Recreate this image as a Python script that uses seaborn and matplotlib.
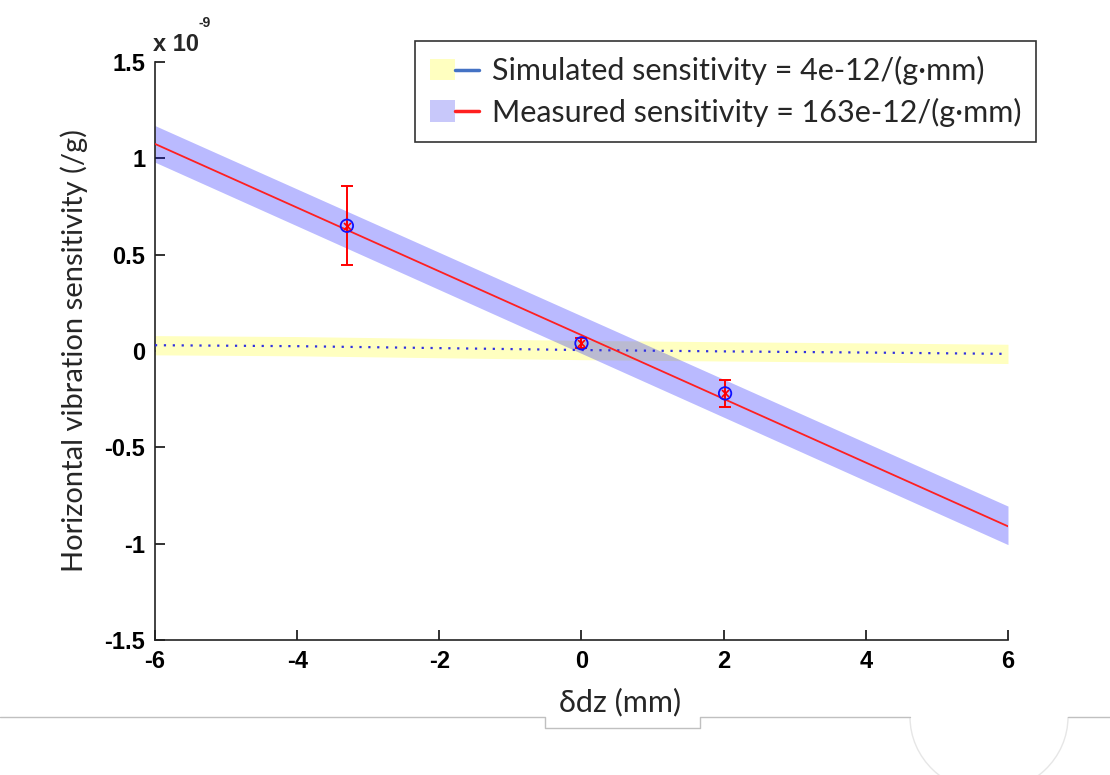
import matplotlib
matplotlib.use("Agg")
import matplotlib.pyplot as plt
import seaborn as sns
import pandas as pd
from matplotlib.patches import Patch, Arc
from matplotlib.lines import Line2D
from matplotlib.legend_handler import HandlerTuple

# ---- data ----
sim_x = [-6, -4, -2, 0, 2, 4, 6]
sim_y = [0.03, 0.025, 0.015, 0.005, -0.002, -0.008, -0.015]
sim_lo = [-0.02, -0.025, -0.035, -0.045, -0.052, -0.058, -0.065]
sim_hi = [0.08, 0.075, 0.065, 0.055, 0.048, 0.042, 0.035]

fit_x = [-6, 6]
fit_y = [1.075, -0.91]
fit_lo = [0.98, -1.005]
fit_hi = [1.17, -0.805]

pt_x = [-3.3, 0.0, 2.02]
pt_y = [0.65, 0.04, -0.22]
pt_err = [0.205, 0.025, 0.07]

xticks = [-6, -4, -2, 0, 2, 4, 6]
yticks = [-1.5, -1, -0.5, 0, 0.5, 1, 1.5]
ytick_labels = ["-1.5", "-1", "-0.5", "0", "0.5", "1", "1.5"]

sim_label = "Simulated sensitivity = 4e-12/(g\u00b7mm)"
meas_label = "Measured sensitivity = 163e-12/(g\u00b7mm)"

sns.set_style("ticks")
plt.rcParams['font.family'] = ['Lato', 'DejaVu Sans']
plt.rcParams.update({
    'xtick.bottom': True, 'ytick.left': True,
    'xtick.top': False, 'ytick.right': False,
    'xtick.direction': 'in', 'ytick.direction': 'in',
    'xtick.major.size': 7, 'ytick.major.size': 7,
    'xtick.major.width': 1.3, 'ytick.major.width': 1.3,
    'xtick.color': '#222222', 'ytick.color': '#222222',
    'xtick.labelcolor': 'black', 'ytick.labelcolor': 'black',
    'xtick.major.pad': 7, 'ytick.major.pad': 7,
})

fig = plt.figure(figsize=(11.1, 7.75), dpi=100)
ax = fig.add_axes([0.1396, 0.1742, 0.7685, 0.7458])

yellow = "#ffffc0"

ax.fill_between(sim_x, sim_lo, sim_hi, color=yellow, lw=0, zorder=1)
ax.fill_between(fit_x, fit_lo, fit_hi, color="#0000ff", lw=0, alpha=0.27, zorder=2)

sim_df = pd.DataFrame({"x": sim_x, "y": sim_y})
fit_df = pd.DataFrame({"x": fit_x, "y": fit_y})
sns.lineplot(data=sim_df, x="x", y="y", ax=ax, color="#3030e0", lw=1.6,
             linestyle=(0, (1, 3)), zorder=3)
sns.lineplot(data=fit_df, x="x", y="y", ax=ax, color="#ff2020", lw=1.3, zorder=4)

ax.errorbar(pt_x, pt_y, yerr=pt_err, fmt="none", ecolor="red", elinewidth=1.4,
            capsize=4, capthick=1.4, zorder=5)
pts_df = pd.DataFrame({"x": pt_x, "y": pt_y})
sns.scatterplot(data=pts_df, x="x", y="y", ax=ax, marker="o", s=80,
                facecolor="none", edgecolor="#1010ff", linewidth=1.3, zorder=6)
sns.scatterplot(data=pts_df, x="x", y="y", ax=ax, marker="x", s=25,
                color="red", linewidth=1.2, zorder=7)

ax.set_xlim(-6, 6)
ax.set_ylim(-1.5, 1.5)
ax.set_xticks(xticks)
ax.set_yticks(yticks)
tickfont = dict(family=['Liberation Sans', 'DejaVu Sans'], weight='bold', size=17)
ax.set_xticklabels([str(t) for t in xticks], fontdict=tickfont)
ax.set_yticklabels(ytick_labels, fontdict=tickfont)
ax.tick_params(axis='both', which='major', direction='in', length=7, width=1.3,
               color='#222222', bottom=True, left=True, top=False, right=False)
for s in ["top", "right"]:
    ax.spines[s].set_visible(False)
for s in ["left", "bottom"]:
    ax.spines[s].set_color("#222222")
    ax.spines[s].set_linewidth(1.2)

ax.set_xlabel("\u03b4dz (mm)", fontsize=22)
ax.xaxis.set_label_coords(0.545, -0.082)
ax.set_ylabel("Horizontal vibration sensitivity (/g)", fontsize=21, labelpad=12)

fig.text(0.1378, 0.928, "x 10", fontsize=17, weight='bold',
         family=['Liberation Sans'], ha="left", va="bottom")
fig.text(0.179, 0.961, "-9", fontsize=10, weight='bold',
         family=['Liberation Sans'], ha="left", va="bottom")

h1 = (Patch(facecolor=yellow, edgecolor="none"), Line2D([], [], color="#4472c4", lw=2.5))
h2 = (Patch(facecolor="#c8c8fa", edgecolor="none"), Line2D([], [], color="#ff2020", lw=2.5))
leg = fig.legend([h1, h2], [sim_label, meas_label],
                 handler_map={tuple: HandlerTuple(ndivide=None, pad=0)},
                 loc="upper left", bbox_to_anchor=(0.374, 0.947),
                 fontsize=22, frameon=True, fancybox=False, borderpad=0.5,
                 handlelength=1.6, handletextpad=0.4, labelspacing=0.4,
                 borderaxespad=0)
leg.get_frame().set_edgecolor("black")
leg.get_frame().set_linewidth(1.2)

# screenshot decoration at bottom
gray = "#c0c0c0"
def fl(xs, ys):
    fig.add_artist(Line2D([x / 1110 for x in xs], [1 - y / 775 for y in ys],
                          transform=fig.transFigure, color=gray, lw=1))
fl([0, 545, 545, 700, 700, 910], [717, 717, 728, 728, 717, 717])
fl([1068, 1110], [717, 717])
fig.add_artist(Arc((989 / 1110, 1 - 717 / 775), 158 / 1110, 2 * 75 / 775,
                   theta1=180, theta2=360, transform=fig.transFigure,
                   color="#e6e6e6", lw=1))

fig.savefig("out.png", dpi=100)
